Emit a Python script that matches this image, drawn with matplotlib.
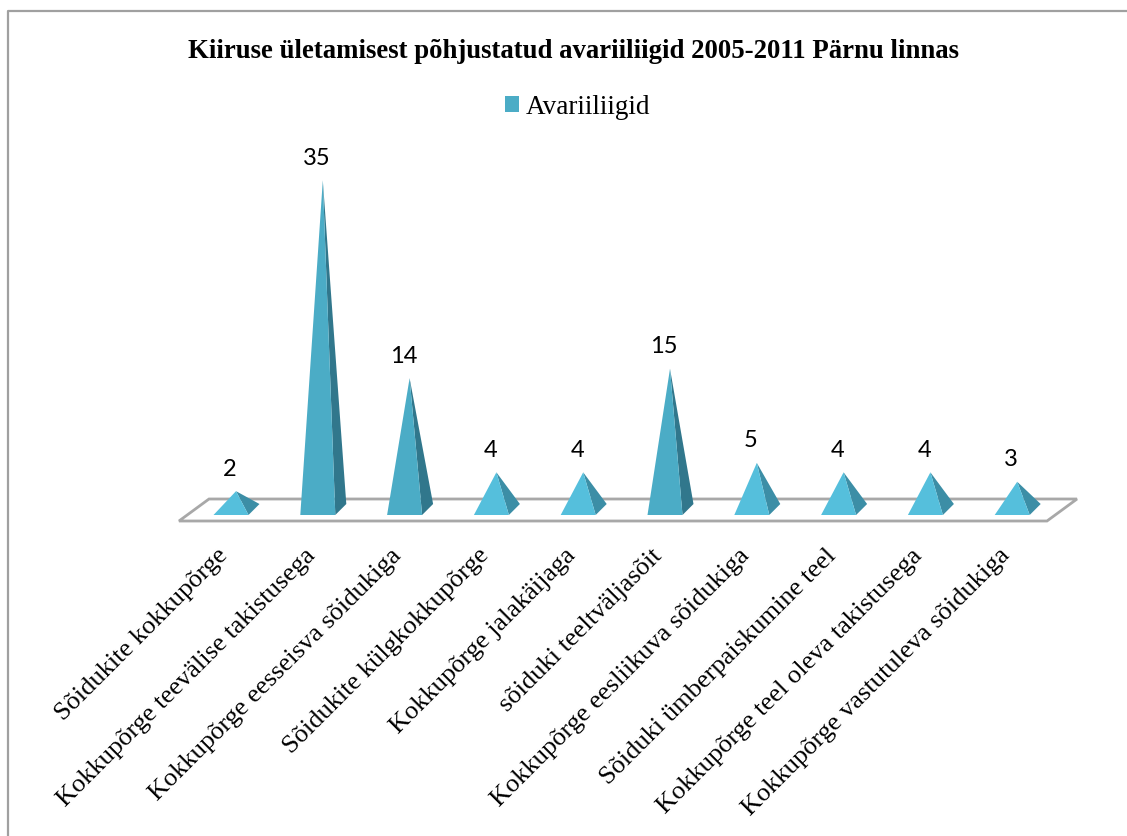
import matplotlib
matplotlib.use("Agg")
import matplotlib.pyplot as plt
from matplotlib.lines import Line2D
from matplotlib.patches import Patch, Polygon
from matplotlib.transforms import ScaledTranslation

categories = [
    "Sõidukite kokkupõrge",
    "Kokkupõrge teevälise takistusega",
    "Kokkupõrge eesseisva sõidukiga",
    "Sõidukite külgkokkupõrge",
    "Kokkupõrge jalakäijaga",
    "sõiduki teeltväljasõit",
    "Kokkupõrge eesliikuva sõidukiga",
    "Sõiduki ümberpaiskumine teel",
    "Kokkupõrge teel oleva takistusega",
    "Kokkupõrge vastutuleva sõidukiga",
]
values = [2, 35, 14, 4, 4, 15, 5, 4, 4, 3]
series_name = "Avariiliigid"
title = "Kiiruse ületamisest põhjustatud avariiliigid 2005-2011 Pärnu linnas"

W, H = 1127, 836
PX_CAT = 86.8
PX_VAL = 9.42
FLOOR_PX = 521

fig = plt.figure(figsize=(W / 100, H / 100), dpi=100)
ax = fig.add_axes([0, 1 - FLOOR_PX / H, 1, FLOOR_PX / H])
ax.set_xlim(-231 / PX_CAT, (W - 231) / PX_CAT)
ax.set_ylim(-6 / PX_VAL, 515 / PX_VAL)
for s in ax.spines.values():
    s.set_visible(False)
ax.yaxis.set_visible(False)
ax.patch.set_alpha(0)

# frame: only left and top edges are in view
fig.add_artist(Line2D([8 / W, 8 / W, 1], [0, 1 - 11 / H, 1 - 11 / H], color="#a0a0a0", lw=1.6))

# floor of the 3d plot
floor = Polygon([(-52 / PX_CAT, -6 / PX_VAL), (816 / PX_CAT, -6 / PX_VAL),
                 (846 / PX_CAT, 16 / PX_VAL), (-22 / PX_CAT, 16 / PX_VAL)],
                closed=True, facecolor="white", edgecolor="#a8a8a8", lw=2, zorder=1, clip_on=False)
ax.add_patch(floor)

half = 17.5 / PX_CAT
side = 11 / PX_CAT
for i, v in enumerate(values):
    tall = v >= 14
    front = "#4bacc6" if tall else "#55bfdc"
    right = "#31778c" if tall else "#3c8ea6"
    apex = (i + 5 / PX_CAT, v + 5 / PX_VAL)
    ax.add_patch(Polygon([(i + half, 0), (i + half + side, 11 / PX_VAL), apex],
                         facecolor=right, edgecolor="none", zorder=2))
    ax.add_patch(Polygon([(i - half, 0), (i + half, 0), apex],
                         facecolor=front, edgecolor="none", zorder=3))
    ax.text(i - 1 / PX_CAT, v + 27 / PX_VAL, str(v), ha="center", va="center",
            family="Lato", fontsize=17, color="black")

ax.set_xticks(range(len(categories)))
ax.set_xticklabels(categories, rotation=45, ha="right", rotation_mode="anchor",
                   family="Liberation Serif", fontsize=19)
ax.tick_params(axis="x", length=0, pad=17)
# pull the slanted labels left of their tick
shift = ScaledTranslation(-14 / 100, 0, fig.dpi_scale_trans)
for lab in ax.get_xticklabels():
    lab.set_transform(lab.get_transform() + shift)

fig.text(574 / W, 1 - 52 / H, title, ha="center", va="center",
         family="Liberation Serif", fontweight="bold", fontsize=19.25)

ax.legend(handles=[Patch(facecolor="#4bacc6", label=series_name)],
          loc="center", bbox_to_anchor=(578 / W, 1 - 107 / H), bbox_transform=fig.transFigure,
          frameon=False, handlelength=0.52, handleheight=0.52, handletextpad=0.25,
          prop={"family": "Liberation Serif", "size": 19.5})

fig.savefig("out.png", dpi=100)
